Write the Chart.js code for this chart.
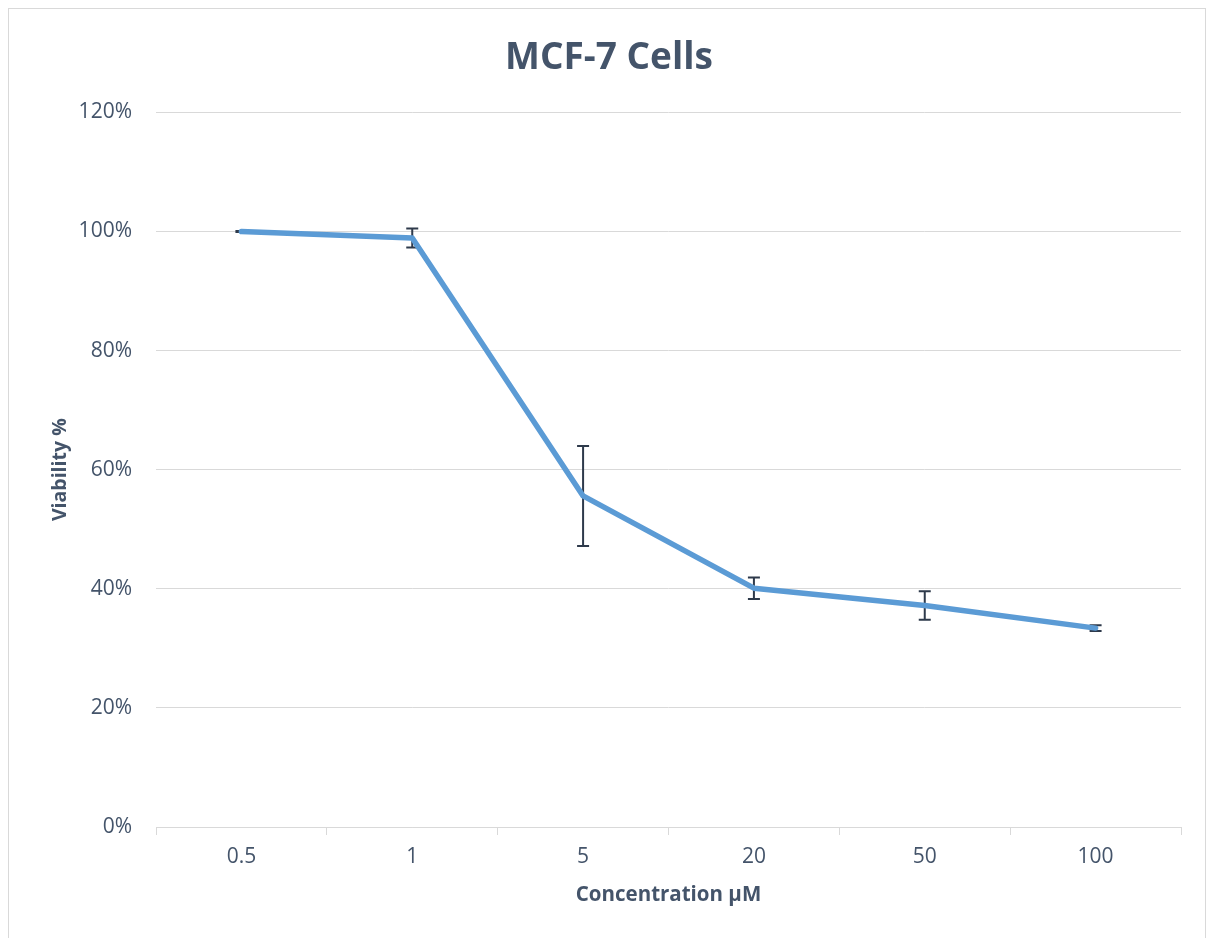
<!DOCTYPE html>
<html>
<head>
<meta charset="utf-8">
<script src="https://cdn.jsdelivr.net/npm/chart.js@4/dist/chart.umd.min.js"></script>
<style>
  html, body { margin: 0; padding: 0; background: #ffffff; }
  #frame { position: absolute; left: 8px; top: 8px; width: 1198px; height: 940px; border: 1px solid #d9d9d9; box-sizing: border-box; }
  #wrap { position: absolute; left: 0; top: 0; width: 1196px; height: 938px; }
</style>
</head>
<body>
<div id="frame"><div id="wrap"><canvas id="c"></canvas></div></div>
<script>
const categories = ["0.5", "1", "5", "20", "50", "100"];
const viability = [100, 98.9, 55.6, 40.1, 37.2, 33.4];
const errors = [0.1, 1.6, 8.4, 1.8, 2.4, 0.5];
const yTicks = [0, 20, 40, 60, 80, 100, 120];

const FONT = "'Open Sans', Lato, sans-serif";
const TEXT = "#44546a";

const errorBars = {
  id: 'errorBars',
  beforeDatasetsDraw(chart) {
    const ctx = chart.ctx;
    const xs = chart.scales.x, ys = chart.scales.y;
    ctx.save();
    ctx.strokeStyle = '#2e3a4b';
    ctx.lineWidth = 2;
    viability.forEach((v, i) => {
      const x = xs.getPixelForValue(i);
      const yTop = ys.getPixelForValue(v + errors[i]);
      const yBot = ys.getPixelForValue(v - errors[i]);
      const cap = 6;
      ctx.beginPath();
      ctx.moveTo(x, yTop); ctx.lineTo(x, yBot);
      ctx.moveTo(x - cap, yTop); ctx.lineTo(x + cap, yTop);
      ctx.moveTo(x - cap, yBot); ctx.lineTo(x + cap, yBot);
      ctx.stroke();
    });
    ctx.restore();
  }
};

new Chart(document.getElementById('c'), {
  type: 'line',
  data: {
    labels: categories,
    datasets: [{
      data: viability,
      borderColor: '#5b9bd5',
      borderWidth: 5.5,
      pointRadius: 0,
      tension: 0,
      borderCapStyle: 'round',
      borderJoinStyle: 'round'
    }]
  },
  options: {
    responsive: true,
    maintainAspectRatio: false,
    animation: false,
    layout: { padding: { left: 28, right: 24, top: 0, bottom: 0 } },
    plugins: {
      legend: { display: false },
      tooltip: { enabled: false },
      title: {
        display: true,
        text: 'MCF-7 Cells',
        color: TEXT,
        font: { family: FONT, size: 37, weight: 'bold' },
        padding: { top: 27, bottom: 32 }
      }
    },
    scales: {
      x: {
        offset: true,
        afterFit(scale) { scale.height = 120; },
        grid: { display: true, offset: true, drawOnChartArea: false, tickLength: 8, color: '#d9d9d9', lineWidth: 1 },
        border: { display: true, color: '#d9d9d9', width: 1 },
        ticks: { color: TEXT, font: { family: FONT, size: 21 }, padding: 9 },
        title: { display: true, text: 'Concentration µM', color: TEXT, font: { family: FONT, size: 20.5, weight: 'bold' }, padding: { top: 0, bottom: 40 } }
      },
      y: {
        min: 0, max: 120,
        afterFit(scale) { scale.width = 119; },
        afterBuildTicks(scale) { scale.ticks = yTicks.map(v => ({ value: v })); },
        grid: { color: '#d9d9d9', lineWidth: 1, drawTicks: false },
        border: { display: false },
        ticks: { color: TEXT, font: { family: FONT, size: 21 }, padding: 24, callback: v => v + '%' },
        title: { display: true, text: 'Viability %', color: TEXT, font: { family: FONT, size: 19.5, weight: 'bold' }, padding: { top: 12, bottom: 0 } }
      }
    }
  },
  plugins: [errorBars]
});
</script>
</body>
</html>
